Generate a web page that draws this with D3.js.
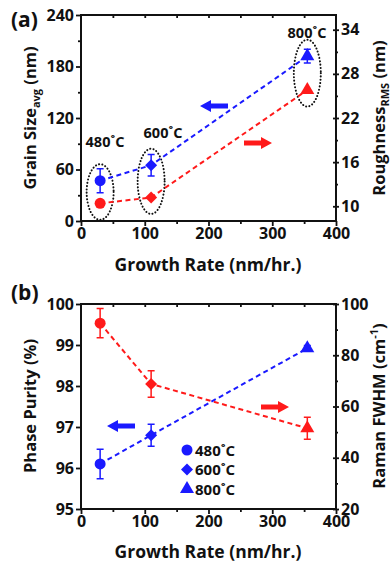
<!DOCTYPE html>
<html>
<head>
<meta charset="utf-8">
<title>Growth rate chart</title>
<script src="https://cdn.jsdelivr.net/npm/d3@7"></script>
<style>
body { margin:0; padding:0; background:#fff; }
svg text { font-family:"Open Sans", sans-serif; font-weight:700; fill:#111; }
</style>
</head>
<body>
<svg></svg>
<script>
// data
var growthRate = [30, 110, 355];
var temps = ["480˚C", "600˚C", "800˚C"];
var grainSize = [47, 65, 192];
var grainErr = [14, 12.5, 8];
var roughness = [10.4, 11.2, 25.8];
var phasePurity = [96.1, 96.8, 98.92];
var purityErr = [0.36, 0.27, 0.07];
var ramanFwhm = [92.5, 68.8, 51.5];
var ramanErr = [5.7, 5.2, 4.3];

var xTicks = [0, 100, 200, 300, 400];
var grainTicks = [0, 60, 120, 180, 240];
var roughTicks = [10, 16, 22, 28, 34];
var purityTicks = [95, 96, 97, 98, 99, 100];
var ramanTicks = [20, 40, 60, 80, 100];

var w = 391, h = 567;
var blue = "#1a1aff", red = "#ff1a1a";

var svg = d3.select("svg").attr("width", w).attr("height", h);

var x = d3.scaleLinear().domain([0, 400]).range([81, 336]);

// panel a scales
var yGrain = d3.scaleLinear().domain([0, 240]).range([221, 15]);
var yRough = d3.scaleLinear().domain([8, 36]).range([221, 15]);
// panel b scales
var yPur = d3.scaleLinear().domain([95, 100]).range([509, 304]);
var yRam = d3.scaleLinear().domain([20, 100]).range([509, 304]);

var fmt = d3.format("d");

/* axes + frame for one panel */
function frame(yL, yR, lTicks, lMinor, rTicks, rMinor) {
	var top = yL.range()[1], bot = yL.range()[0];
	var g = svg.append("g");
	// bottom
	g.append("g").attr("transform", "translate(0," + bot + ")")
		.call(d3.axisBottom(x).tickValues(xTicks).tickSize(5).tickSizeOuter(0).tickPadding(2).tickFormat(fmt));
	g.append("g").attr("transform", "translate(0," + bot + ")")
		.call(d3.axisBottom(x).tickValues([50, 150, 250, 350]).tickSize(3).tickFormat(""));
	// top, inward
	g.append("g").attr("transform", "translate(0," + top + ")")
		.call(d3.axisBottom(x).tickValues([50, 100, 150, 200, 250, 300, 350]).tickSize(3).tickFormat(""));
	// left
	g.append("g").attr("transform", "translate(" + x(0) + ",0)")
		.call(d3.axisLeft(yL).tickValues(lTicks).tickSize(5).tickSizeOuter(0).tickPadding(2).tickFormat(fmt));
	g.append("g").attr("transform", "translate(" + x(0) + ",0)")
		.call(d3.axisLeft(yL).tickValues(lMinor).tickSize(3).tickFormat(""));
	// right, ticks crossing the axis
	var r = g.append("g").attr("transform", "translate(" + x(400) + ",0)")
		.call(d3.axisRight(yR).tickValues(rTicks).tickSize(3).tickSizeOuter(0).tickPadding(2).tickFormat(fmt));
	r.selectAll(".tick line").attr("x1", -3);
	g.append("g").attr("transform", "translate(" + x(400) + ",0)")
		.call(d3.axisRight(yR).tickValues(rMinor).tickSize(2).tickFormat(""));
	g.selectAll(".tick line").attr("stroke", "#111").attr("stroke-width", 1.8);
	g.selectAll(".domain").remove();
	g.selectAll(".tick text").attr("font-size", 16).attr("font-family", null).attr("fill", "#111");
	g.append("rect")
		.attr("x", x(0)).attr("y", top)
		.attr("width", x(400) - x(0)).attr("height", bot - top)
		.attr("fill", "none").attr("stroke", "#111").attr("stroke-width", 2);
	return g;
}

// circle, diamond (rotated square), triangle
var symbols = [d3.symbolCircle, d3.symbolSquare, d3.symbolTriangle];
var symSize = [95, 72, 85];
var symRot = [0, 45, 0];

function marker(g, i, px, py, color) {
	g.append("path")
		.attr("d", d3.symbol().type(symbols[i]).size(symSize[i])())
		.attr("transform", "translate(" + px + "," + py + ") rotate(" + symRot[i] + ")")
		.attr("fill", color);
}

function series(xs, ys, errs, yScale, color) {
	var g = svg.append("g");
	var pts = xs.map(function(v, i) { return [x(v), yScale(ys[i])]; });
	g.append("path")
		.attr("d", d3.line()(pts))
		.attr("fill", "none").attr("stroke", color)
		.attr("stroke-width", 2).attr("stroke-dasharray", "5,3.5");
	if (errs) {
		xs.forEach(function(v, i) {
			var cx = x(v), y1 = yScale(ys[i] + errs[i]), y2 = yScale(ys[i] - errs[i]);
			g.append("path")
				.attr("d", "M" + (cx - 3.5) + "," + y1 + "H" + (cx + 3.5) + "M" + cx + "," + y1 + "V" + y2 + "M" + (cx - 3.5) + "," + y2 + "H" + (cx + 3.5))
				.attr("stroke", color).attr("stroke-width", 1.5).attr("fill", "none");
		});
	}
	xs.forEach(function(v, i) {
		marker(g, i, x(v), yScale(ys[i]), color);
	});
}

// arrow: tip position, direction (-1 left, 1 right)
function arrow(tipX, y, dir, color) {
	var len = 28, head = 11, hw = 6, sw = 2.6;
	var p = [
		[tipX, y],
		[tipX - dir * head, y - hw],
		[tipX - dir * head, y - sw],
		[tipX - dir * len, y - sw],
		[tipX - dir * len, y + sw],
		[tipX - dir * head, y + sw],
		[tipX - dir * head, y + hw]
	];
	svg.append("path").attr("d", "M" + p.join("L") + "Z").attr("fill", color);
}

function yTitle(cx, cy, parts) {
	var t = svg.append("text")
		.attr("transform", "translate(" + cx + "," + cy + ") rotate(-90)")
		.attr("text-anchor", "middle").attr("font-size", 16.5);
	parts.forEach(function(p) {
		t.append("tspan").attr("font-size", p.size || 16.5).attr("dy", p.dy || 0).text(p.t);
	});
}

/************ panel (a) ************/
frame(yGrain, yRough, grainTicks, [30, 90, 150, 210], roughTicks, [13, 19, 25, 31]);

// dotted ellipses around each temperature group
growthRate.forEach(function(v, i) {
	var yb = yGrain(grainSize[i]), yr = yRough(roughness[i]);
	svg.append("ellipse")
		.attr("cx", x(v)).attr("cy", (yb + yr) / 2)
		.attr("rx", 13.5).attr("ry", Math.abs(yr - yb) / 2 + 16.5)
		.attr("fill", "none").attr("stroke", "#111")
		.attr("stroke-width", 2).attr("stroke-dasharray", "0.1,3.2")
		.attr("stroke-linecap", "round");
});
var tempLabelPos = [[105, 147], [163, 138], [307, 38]];
temps.forEach(function(t, i) {
	svg.append("text").attr("x", tempLabelPos[i][0]).attr("y", tempLabelPos[i][1])
		.attr("text-anchor", "middle").attr("font-size", 14.5).text(t);
});

series(growthRate, grainSize, grainErr, yGrain, blue);
series(growthRate, roughness, null, yRough, red);

arrow(200, 106, -1, blue);
arrow(272, 143, 1, red);

svg.append("text").attr("x", 11).attr("y", 27).attr("font-size", 21).text("(a)");
svg.append("text").attr("x", 208).attr("y", 271).attr("text-anchor", "middle").attr("font-size", 17.5).text("Growth Rate (nm/hr.)");
yTitle(36, 118, [{t: "Grain Size"}, {t: "avg", size: 11, dy: 4}, {t: " (nm)", dy: -4}]);
yTitle(385, 118, [{t: "Roughness"}, {t: "RMS", size: 11, dy: 4}, {t: " (nm)", dy: -4}]);

/************ panel (b) ************/
frame(yPur, yRam, purityTicks, [], ramanTicks, [30, 50, 70, 90]);

series(growthRate, phasePurity, purityErr, yPur, blue);
series(growthRate, ramanFwhm, ramanErr, yRam, red);

arrow(107, 426, -1, blue);
arrow(289, 407, 1, red);

// legend
temps.forEach(function(t, i) {
	var ly = 450 + i * 19.5;
	marker(svg, i, 187, ly, blue);
	svg.append("text").attr("x", 195).attr("y", ly + 5.5).attr("font-size", 15).text(t);
});

svg.append("text").attr("x", 11).attr("y", 300).attr("font-size", 21).text("(b)");
svg.append("text").attr("x", 208).attr("y", 558).attr("text-anchor", "middle").attr("font-size", 17.5).text("Growth Rate (nm/hr.)");
yTitle(36, 406, [{t: "Phase Purity (%)"}]);
yTitle(385, 406, [{t: "Raman FWHM  (cm"}, {t: "-1", size: 11, dy: -7}, {t: ")", dy: 7}]);
</script>
</body>
</html>
